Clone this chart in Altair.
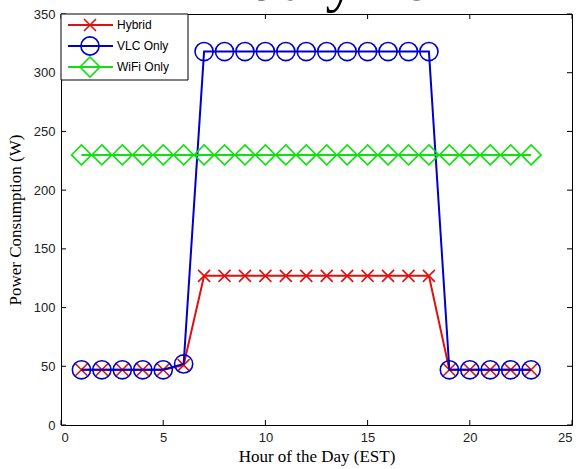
import altair as alt
import pandas as pd

hours = list(range(1, 24))
hybrid = [47, 47, 47, 47, 47, 51, 127, 127, 127, 127, 127, 127, 127, 127, 127, 127, 127, 127, 47, 47, 47, 47, 47]
vlc = [47, 47, 47, 47, 47, 52, 318, 318, 318, 318, 318, 318, 318, 318, 318, 318, 318, 318, 47, 47, 47, 47, 47]
wifi = [230] * 23
series_names = ["Hybrid", "VLC Only", "WiFi Only"]
x_ticks = [0, 5, 10, 15, 20, 25]
y_ticks = [0, 50, 100, 150, 200, 250, 300, 350]
title_text = "July 16"

W, H = 511, 411
RED, BLUE, GREEN = "#e01010", "#0000c8", "#10e010"
XPATH = "M-1,-1L1,1M-1,1L1,-1"
DPATH = "M0,-1L1,0L0,1L-1,0Z"

rows = []
for name, vals in zip(series_names, [hybrid, vlc, wifi]):
    for h, v in zip(hours, vals):
        rows.append({"hour": h, "power": v, "series": name})
df = pd.DataFrame(rows)

xs = alt.Scale(domain=[0, 25], nice=False, zero=False)
ys = alt.Scale(domain=[0, 350], nice=False)
xax = alt.Axis(values=x_ticks, ticks=False, domain=False, grid=False, title="Hour of the Day (EST)")
yax = alt.Axis(values=y_ticks, ticks=False, domain=False, grid=False, title="Power Consumption (W)")

base = alt.Chart(df)

def enc(ch):
    return ch.encode(
        x=alt.X("hour:Q", scale=xs, axis=xax),
        y=alt.Y("power:Q", scale=ys, axis=yax),
    )

styles = [
    ("Hybrid", RED, XPATH, 144),
    ("VLC Only", BLUE, "circle", 330),
    ("WiFi Only", GREEN, DPATH, 400),
]
layers = []
for name, col, shp, sz in styles:
    sub = base.transform_filter(alt.datum.series == name)
    layers.append(enc(sub.mark_line(color=col, strokeWidth=2)))
    layers.append(enc(sub.mark_point(shape=shp, size=sz, filled=False, color=col, strokeWidth=1.6, opacity=1)))

# inward ticks on all four sides
xt = alt.Chart(pd.DataFrame({"v": x_ticks}))
yt = alt.Chart(pd.DataFrame({"v": y_ticks}))
tick_layers = [
    xt.mark_rule(color="black", strokeWidth=1).encode(x=alt.X("v:Q", scale=xs, axis=xax), y=alt.value(H), y2=alt.value(H - 5)),
    xt.mark_rule(color="black", strokeWidth=1).encode(x=alt.X("v:Q", scale=xs, axis=xax), y=alt.value(0), y2=alt.value(5)),
    yt.mark_rule(color="black", strokeWidth=1).encode(y=alt.Y("v:Q", scale=ys, axis=yax), x=alt.value(0), x2=alt.value(5)),
    yt.mark_rule(color="black", strokeWidth=1).encode(y=alt.Y("v:Q", scale=ys, axis=yax), x=alt.value(W), x2=alt.value(W - 5)),
]

# manual legend
one = alt.Chart(pd.DataFrame({"a": [0]}))
leg = [one.mark_rect(fill="white", stroke="black", strokeWidth=1).encode(
    x=alt.value(0), x2=alt.value(127), y=alt.value(0), y2=alt.value(66))]
for i, (name, col, shp, sz) in enumerate(styles):
    yy = 11 + i * 21
    leg.append(one.mark_rule(color=col, strokeWidth=2).encode(x=alt.value(7), x2=alt.value(52), y=alt.value(yy)))
    leg.append(one.mark_point(shape=shp, size=sz, filled=False, color=col, strokeWidth=1.6, opacity=1).encode(
        x=alt.value(29), y=alt.value(yy)))
    leg.append(one.mark_text(text=name, align="left", baseline="middle", font="Liberation Sans", fontSize=12,
                             color="black").encode(x=alt.value(56), y=alt.value(yy)))

title = one.mark_text(text=title_text, align="center", baseline="alphabetic", font="Liberation Serif",
                      fontSize=60, color="black").encode(x=alt.value(282), y=alt.value(-14.5))

chart = alt.layer(*layers, *tick_layers, *leg, title).properties(
    width=W, height=H,
    autosize=alt.AutoSizeParams(type="none"),
    padding={"left": 61, "top": 14, "right": 9, "bottom": 44},
).configure_view(stroke="black", strokeWidth=1).configure_axis(
    labelFont="Liberation Sans", labelFontSize=13, labelColor="#222222", labelPadding=6,
    titleFont="Liberation Serif", titleFontSize=17, titleFontWeight="normal", titleColor="black",
).configure_axisX(titlePadding=4).configure_axisY(titlePadding=9)

chart.save("out.html", embed_options={"renderer": "svg", "actions": False})
